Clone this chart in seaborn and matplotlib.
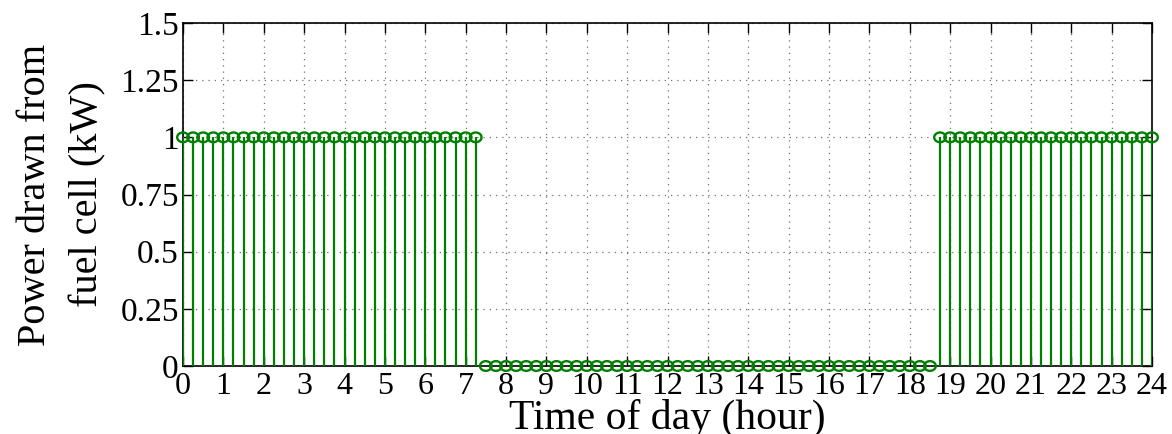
import numpy as np
import pandas as pd
import matplotlib
matplotlib.use("Agg")
import matplotlib.pyplot as plt
from matplotlib.path import Path
import seaborn as sns

# Sampling instants over one day, every quarter hour
hours = np.arange(0, 24.0 + 0.125, 0.25)

# Fuel-cell output (kW) at each quarter hour
night_early = [1.0] * 30   # 00:00 – 07:15
daytime = [0.0] * 45       # 07:30 – 18:30
night_late = [1.0] * 22    # 18:45 – 24:00
power_kw = night_early + daytime + night_late

x_ticks = list(range(0, 25))
y_ticks = [0, 0.25, 0.5, 0.75, 1, 1.25, 1.5]
y_tick_labels = ["0", "0.25", "0.5", "0.75", "1", "1.25", "1.5"]

df = pd.DataFrame({"hour": hours, "power": power_kw})

sns.set_theme(style="ticks")
plt.rcParams["font.family"] = ["Liberation Serif", "DejaVu Serif"]
plt.rcParams["text.color"] = "black"
plt.rcParams["axes.labelcolor"] = "black"

green = "#008000"

# Slightly wide open-ring head for the stems
theta = np.linspace(0, 2 * np.pi, 61)
ring = Path(np.column_stack([1.2 * np.cos(theta), np.sin(theta)]))

fig = plt.figure(figsize=(11.72, 4.34), dpi=100)
ax = fig.add_axes([183 / 1172, 1 - 366 / 434, (1152 - 183) / 1172, (366 - 23) / 434])

# Stems from the baseline up to each sample
ax.vlines(df["hour"], 0, df["power"], color=green, linewidth=1.6, zorder=3)
# Open heads
sns.scatterplot(data=df, x="hour", y="power", ax=ax, marker=ring, s=70,
                facecolors="none", edgecolor=green, linewidth=1.7,
                clip_on=False, zorder=4, legend=False)

ax.set_xlim(0, 24)
ax.set_ylim(0, 1.5)
ax.set_xticks(x_ticks)
ax.set_xticklabels([str(t) for t in x_ticks])
ax.set_yticks(y_ticks)
ax.set_yticklabels(y_tick_labels)

ax.grid(True, linestyle=(0, (1, 4)), color="#707070", linewidth=0.9)
for side in ["top", "right", "bottom", "left"]:
    ax.spines[side].set_visible(True)
    ax.spines[side].set_color("black")
    ax.spines[side].set_linewidth(1.2)

ax.tick_params(axis="both", direction="in", length=7, width=1.0,
               top=True, right=True, labelsize=24, colors="black",
               labelcolor="black", pad=3)
ax.tick_params(axis="x", pad=4, labelsize=23)

ax.set_xlabel("Time of day (hour)", fontsize=30, labelpad=-1, color="black")
ax.set_ylabel("Power drawn from\nfuel cell (kW)", fontsize=29, color="black",
              linespacing=1.55, labelpad=10)

fig.savefig("out.png", dpi=100)
